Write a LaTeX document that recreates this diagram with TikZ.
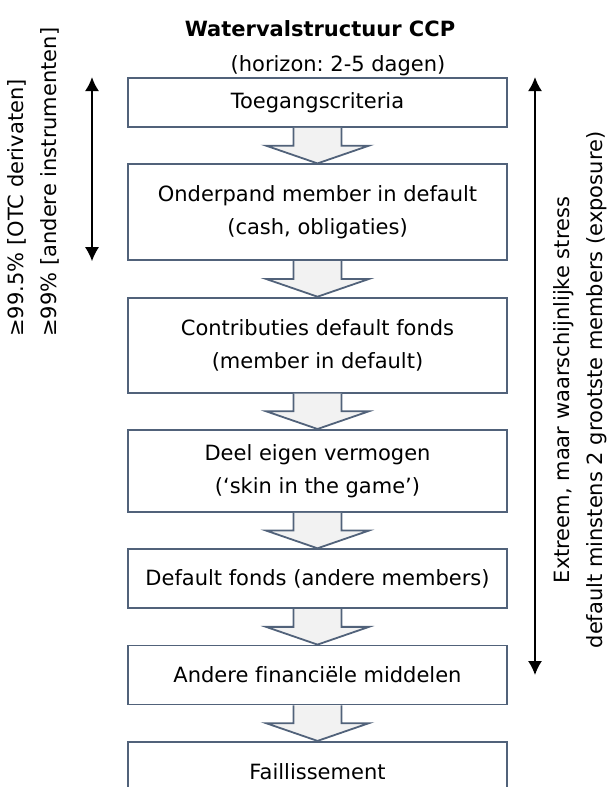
\documentclass[tikz,border=0pt]{standalone}
\usepackage{fontspec}
\setmainfont[Ligatures=NoCommon]{DejaVu Sans}
\usetikzlibrary{arrows.meta,positioning,calc}
\definecolor{boxline}{HTML}{51627A}
\definecolor{arrowfill}{HTML}{F2F2F2}

\begin{document}
\begin{tikzpicture}[x=0.5pt, y=-0.5pt, >={Latex[length=7pt,width=7pt]},
                    node distance=17.75pt, font=\fontsize{10.5}{16.5}\selectfont,
                    stap/.style={draw=boxline, line width=0.9pt, fill=white,
                                 minimum width=189.5pt, inner sep=0pt, align=center},
                    blokpijl/.style={draw=boxline, line width=0.9pt, fill=arrowfill}]
  \useasboundingbox (0,0) rectangle (606,787);

  \node (titel) at (320,29) {\bfseries Watervalstructuur CCP};
  \node (horizon) at (338,66) {(horizon:\ 2-5 dagen)};

  \node[stap, minimum height=24.5pt] (toeg) at (317.5,102.5) {Toegangscriteria};
  \node[stap, minimum height=48pt]   (onder)   [below=of toeg]    {Onderpand member in default\\(cash, obligaties)};
  \node[stap, minimum height=47.5pt] (contrib) [below=of onder]   {Contributies default fonds\\(member in default)};
  \node[stap, minimum height=41pt]   (eigen)   [below=of contrib] {Deel eigen vermogen\\(‘skin in the game’)};
  \node[stap, minimum height=29.5pt] (fonds)   [below=of eigen]   {Default fonds (andere members)};
  \node[stap, minimum height=29.5pt] (andere)  [below=of fonds]   {Andere financiële middelen};
  \node[stap, minimum height=30pt]   (fail)    [below=of andere]  {Faillissement};

  % blokpijlen tussen de stappen
  \foreach \a/\b in {toeg/onder, onder/contrib, contrib/eigen, eigen/fonds, fonds/andere, andere/fail} {
    \coordinate (mid) at ($(\a.south)!0.5!(\b.north)$);
    \draw[blokpijl] ($(\a.south)+(-24,0)$) -- ($(mid)+(-24,0)$) -- ($(mid)+(-51.5,0)$)
      -- (\b.north) -- ($(mid)+(51.5,0)$) -- ($(mid)+(24,0)$) -- ($(\a.south)+(24,0)$);
  }

  % zekerheidsniveaus links en rechts
  \coordinate (links) at (92,0);
  \coordinate (rechts) at (535,0);
  \draw[<->, line width=0.75pt] (toeg.north -| links) -- (onder.south -| links);
  \draw[<->, line width=0.75pt] (toeg.north -| rechts) -- (andere.center -| rechts);

  \node[rotate=90, align=left, anchor=west, inner sep=0pt] (zeker) at (33,337)
    {≥99.5\% [OTC derivaten]\\≥99\% [andere instrumenten]};
  \node[rotate=90, align=center, inner sep=0pt] (stress) at (580,390)
    {Extreem, maar waarschijnlijke stress\\default minstens 2 grootste members (exposure)};
\end{tikzpicture}
\end{document}
